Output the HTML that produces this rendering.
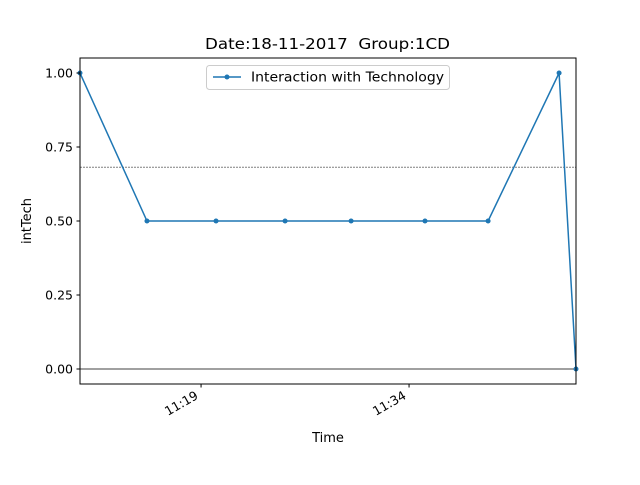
<!DOCTYPE html>
<html><head><meta charset="utf-8"><style>
body{margin:0;background:#fff;}
svg text{font-family:"DejaVu Sans","Liberation Sans",sans-serif;white-space:pre;}
</style></head><body>
<svg id="chart" width="640" height="480" viewBox="0 0 640 480">
<rect width="640" height="480" fill="#fff"/>
<text x="205" y="49" font-size="15.5" textLength="245" lengthAdjust="spacingAndGlyphs" xml:space="preserve">Date:18-11-2017  Group:1CD</text>
<g id="plot"></g>
</svg>
<script>
// minutes after 11:00
const times = [10.27, 15.1, 20.08, 25.06, 29.82, 35.15, 39.7, 44.82, 46.04];
const values = [1, 0.5, 0.5, 0.5, 0.5, 0.5, 0.5, 1, 0];
const yTicks = [0, 0.25, 0.5, 0.75, 1.0];
const xTicks = [19, 34];
const xTickLabels = ["11:19", "11:34"];
const refLine = 0.682;
const zeroLine = 0;

const L=80,R=576,T=58,B=384;
const xMin=10.27,xMax=46.04,yMin=-0.0507,yMax=1.0507;
const xs=v=>L+(v-xMin)/(xMax-xMin)*(R-L);
const ys=v=>B-(v-yMin)/(yMax-yMin)*(B-T);
const NS="http://www.w3.org/2000/svg";
const g=document.getElementById('plot');
function mk(tag,attrs,parent){const e=document.createElementNS(NS,tag);for(const k in attrs)e.setAttribute(k,attrs[k]);(parent||g).appendChild(e);return e;}

let e=mk('line',{x1:L,x2:R,y1:ys(refLine),y2:ys(refLine),stroke:'#000','stroke-width':0.6,'stroke-dasharray':'2,1'});


e=mk('line',{x1:L,x2:R,y1:ys(zeroLine),y2:ys(zeroLine),stroke:'#000','stroke-width':0.7});



e=mk('polyline',{points:times.map((t,i)=>xs(t)+','+ys(values[i])).join(' '),fill:'none',stroke:'#1f77b4','stroke-width':1.5});


times.forEach((t,i)=>{
  const c=mk('circle',{cx:xs(t),cy:ys(values[i]),r:2.5,fill:'#1f77b4'});
  
  
});

e=mk('rect',{x:L,y:T,width:R-L,height:B-T,fill:'none',stroke:'#000','stroke-width':1});



yTicks.forEach(v=>{
  const y=ys(v);
  const tl=mk('line',{x1:L-3.5,x2:L,y1:y,y2:y,stroke:'#000'});
  
  
  const tx=mk('text',{x:L-7,y:y+4.5,'font-size':12.5,'text-anchor':'end'});
  tx.textContent=v.toFixed(2);
  
  
});
xTicks.forEach((v,i)=>{
  const x=xs(v);
  const tl=mk('line',{x1:x,x2:x,y1:B,y2:B+3.5,stroke:'#000'});
  
  
  const tx=mk('text',{x:x-2,y:B+14,'font-size':12.5,'text-anchor':'end',transform:`rotate(-30 ${x-2} ${B+14})`});
  tx.textContent=xTickLabels[i];
  
  
});

e=mk('text',{x:328,y:442,'font-size':13,'text-anchor':'middle'});
e.textContent='Time';


e=mk('text',{x:31,y:221,'font-size':13,'text-anchor':'middle',transform:'rotate(-90 31 221)'});
e.textContent='intTech';



const lg=mk('g',{});


mk('rect',{x:206.5,y:65.5,width:243,height:24,rx:3,fill:'#fff',stroke:'#ccc'},lg);
mk('line',{x1:213,x2:241,y1:77,y2:77,stroke:'#1f77b4','stroke-width':1.5},lg);
mk('circle',{cx:227,cy:77,r:2.5,fill:'#1f77b4'},lg);
const lt=mk('text',{x:251,y:81.5,'font-size':13,textLength:193,lengthAdjust:'spacingAndGlyphs'},lg);
lt.textContent='Interaction with Technology';


</script>
</body></html>
